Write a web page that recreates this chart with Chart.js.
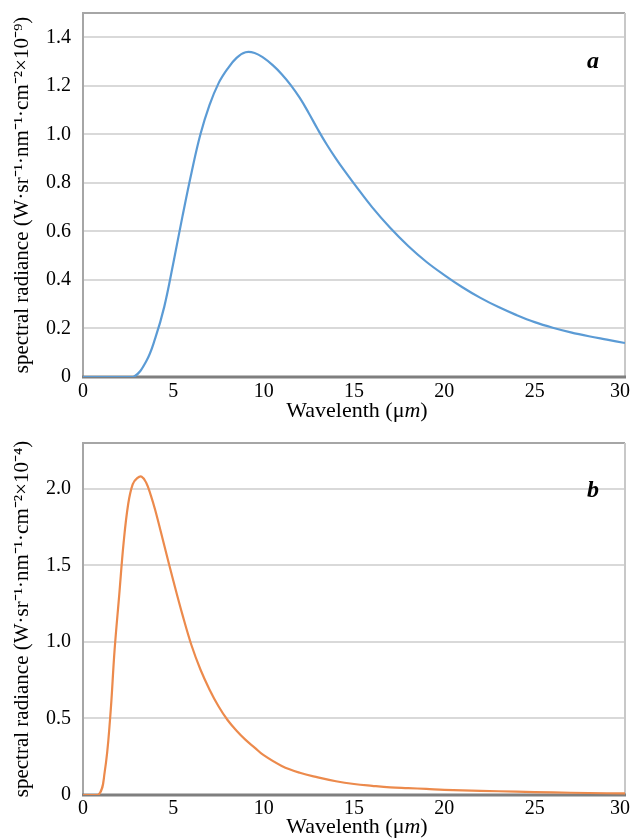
<!DOCTYPE html>
<html>
<head>
<meta charset="utf-8">
<script src="https://cdn.jsdelivr.net/npm/chart.js@4.4.1/dist/chart.umd.min.js"></script>
<style>
  body { margin: 0; background: #fff; }
  .panel { position: absolute; left: 0; }
</style>
</head>
<body>
<div class="panel" style="top:0"><canvas id="chartA" width="631" height="424"></canvas></div>
<div class="panel" style="top:424px"><canvas id="chartB" width="631" height="414"></canvas></div>
<script>
// panel a: long-wave curve (x 10^-9)
const waveA = [0, 1, 2, 2.8, 3.5, 4, 4.5, 5, 5.5, 6, 6.5, 7, 7.5, 8, 8.5, 9, 9.5, 10, 10.5, 11,
  11.5, 12, 12.5, 13, 13.5, 14, 14.5, 15, 16, 17, 18, 19, 20, 21, 22, 23, 24, 25, 26, 27, 28, 29, 30];
const radianceA = [0, 0, 0, 0, 0.065, 0.16, 0.29, 0.47, 0.66, 0.84, 1.0, 1.12, 1.21, 1.27, 1.315, 1.338, 1.335, 1.315, 1.285, 1.248,
  1.203, 1.15, 1.087, 1.02, 0.957, 0.9, 0.847, 0.797, 0.7, 0.615, 0.54, 0.475, 0.42, 0.37, 0.326, 0.288, 0.255, 0.226, 0.203, 0.184, 0.168, 0.154, 0.14];

// panel b: short-wave curve (x 10^-4)
const waveB = [0, 0.85, 1.2, 1.5, 1.75, 2, 2.25, 2.5, 2.75, 3, 3.25, 3.5, 3.75, 4, 4.5, 5, 5.5, 6, 6.5, 7,
  7.5, 8, 8.5, 9, 9.5, 10, 11, 12, 13, 14, 15, 16, 17, 18, 19, 20, 22, 24, 26, 28, 30];
const radianceB = [0, 0, 0.15, 0.5, 0.95, 1.3, 1.65, 1.9, 2.03, 2.07, 2.08, 2.04, 1.96, 1.86, 1.63, 1.4, 1.18, 0.98, 0.82, 0.69,
  0.58, 0.49, 0.42, 0.36, 0.31, 0.26, 0.19, 0.145, 0.115, 0.09, 0.072, 0.06, 0.05, 0.045, 0.04, 0.034, 0.027, 0.022, 0.017, 0.013, 0.01];

const xTitle = 'Wavelenth (μm)';
const yTitleA = 'spectral radiance (W·sr⁻¹·nm⁻¹·cm⁻²×10⁻⁹)';
const yTitleB = 'spectral radiance (W·sr⁻¹·nm⁻¹·cm⁻²×10⁻⁴)';

const serif = 'Liberation Serif';

// frame, x tick labels, panel letter and x title (with italic m)
const framePlugin = {
  id: 'frame',
  beforeDatasetsDraw(chart) {
    const a = chart.chartArea;
    const ctx = chart.ctx;
    ctx.save();
    ctx.lineWidth = 2;
    ctx.strokeStyle = '#a6a6a6';
    ctx.beginPath();
    ctx.moveTo(a.left, a.bottom);
    ctx.lineTo(a.left, a.top);
    ctx.lineTo(a.right, a.top);
    ctx.stroke();
    ctx.strokeStyle = '#c8c8c8';
    ctx.beginPath();
    ctx.moveTo(a.right, a.top);
    ctx.lineTo(a.right, a.bottom);
    ctx.stroke();
    ctx.lineWidth = 3;
    ctx.strokeStyle = '#7f7f7f';
    ctx.beginPath();
    ctx.moveTo(a.left - 1, a.bottom);
    ctx.lineTo(a.right + 1, a.bottom);
    ctx.stroke();
    ctx.restore();
  },
  afterDraw(chart, args, opts) {
    const a = chart.chartArea;
    const ctx = chart.ctx;
    const xs = chart.scales.x;
    ctx.save();
    ctx.fillStyle = '#000';

    // x tick labels, kept inside the canvas
    ctx.font = '20px "' + serif + '"';
    ctx.textAlign = 'center';
    ctx.textBaseline = 'middle';
    xs.ticks.forEach(t => {
      const label = String(t.value);
      const w = ctx.measureText(label).width;
      let px = xs.getPixelForValue(t.value);
      px = Math.min(px, chart.width - 1 - w / 2);
      ctx.fillText(label, px, a.bottom + opts.tickY);
    });

    ctx.font = 'italic bold 24px "' + serif + '"';
    ctx.fillText(opts.letter, a.right - 32, a.top + opts.letterY);

    // x title
    const y = a.bottom + opts.titleY;
    const cx = (a.left + a.right) / 2 + 3;
    const part1 = 'Wavelenth (μ', part2 = 'm', part3 = ')';
    const normal = '22px "' + serif + '"', italic = 'italic 22px "' + serif + '"';
    ctx.textBaseline = 'alphabetic';
    ctx.textAlign = 'left';
    ctx.font = normal;
    const w1 = ctx.measureText(part1).width, w3 = ctx.measureText(part3).width;
    ctx.font = italic;
    const w2 = ctx.measureText(part2).width;
    const x = cx - (w1 + w2 + w3) / 2;
    ctx.font = normal;
    ctx.fillText(part1, x, y);
    ctx.font = italic;
    ctx.fillText(part2, x + w1, y);
    ctx.font = normal;
    ctx.fillText(part3, x + w1 + w2, y);
    ctx.restore();
  }
};

function makeChart(id, waves, values, color, yMax, yStep, yTitle, top, plotH, frameOpts) {
  const ctx = document.getElementById(id).getContext('2d');
  const xHeight = ctx.canvas.height - top - plotH;
  return new Chart(ctx, {
    type: 'line',
    data: {
      datasets: [{
        label: xTitle,
        data: waves.map((w, i) => ({ x: w, y: values[i] })),
        borderColor: color,
        borderWidth: 2.2,
        pointRadius: 0,
        fill: false,
        tension: 0.4
      }]
    },
    options: {
      responsive: false,
      animation: false,
      layout: { padding: { top: top, right: 6, left: 0, bottom: 0 } },
      plugins: {
        legend: { display: false },
        tooltip: { enabled: false },
        frame: frameOpts
      },
      scales: {
        x: {
          type: 'linear',
          min: 0,
          max: 30,
          grid: { display: false, drawTicks: false, tickLength: 0 },
          border: { display: false },
          ticks: { stepSize: 5, display: false },
          afterFit(scale) {
            scale.height = xHeight;
            scale.paddingLeft = 0;
            scale.paddingRight = 0;
          }
        },
        y: {
          min: 0,
          max: yMax,
          grid: { color: '#d9d9d9', lineWidth: 2, drawTicks: false },
          border: { display: false },
          ticks: {
            stepSize: yStep,
            includeBounds: false,
            padding: 12,
            color: '#000',
            font: { family: serif, size: 20 },
            callback: v => (v === 0 ? '0' : v.toFixed(1))
          },
          title: {
            display: true,
            text: yTitle,
            color: '#000',
            font: { family: serif, size: 21 },
            padding: { top: 10, bottom: 0 }
          },
          afterFit(scale) {
            scale.width = 83;
            scale.paddingTop = 0;
            scale.paddingBottom = 0;
          }
        }
      }
    },
    plugins: [framePlugin]
  });
}

makeChart('chartA', waveA, radianceA, '#5b9bd5', 1.5, 0.2, yTitleA, 13, 364,
  { letter: 'a', letterY: 49, tickY: 15, titleY: 40 });
makeChart('chartB', waveB, radianceB, '#ec8a4c', 2.3, 0.5, yTitleB, 19, 352,
  { letter: 'b', letterY: 48, tickY: 14, titleY: 38 });
</script>
</body>
</html>
